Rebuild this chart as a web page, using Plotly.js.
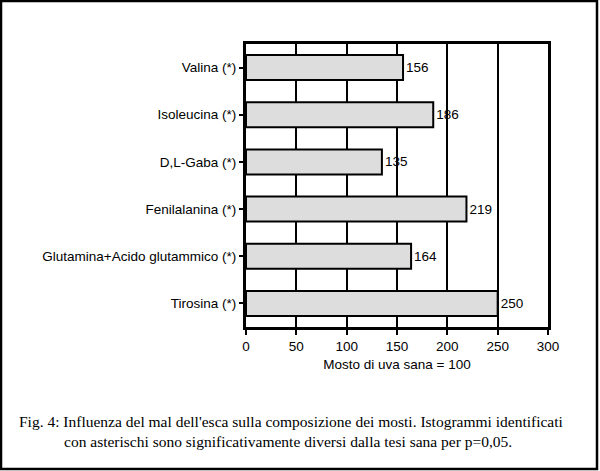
<!DOCTYPE html>
<html>
<head>
<meta charset="utf-8">
<script src="https://cdn.plot.ly/plotly-3.0.1.min.js"></script>
<style>
html,body{margin:0;padding:0;background:#fff;}
#chart{width:600px;height:471px;}
</style>
</head>
<body>
<div id="chart"></div>
<script>
const categories = ["Valina (*)", "Isoleucina (*)", "D,L-Gaba (*)", "Fenilalanina (*)", "Glutamina+Acido glutammico (*)", "Tirosina (*)"];
const values = [156, 186, 135, 219, 164, 250];
const xTicks = [0, 50, 100, 150, 200, 250, 300];
const xTitle = "Mosto di uva sana = 100";
const captionLine1 = "Fig. 4: Influenza del mal dell'esca sulla composizione dei mosti. Istogrammi identificati";
const captionLine2 = "con asterischi sono significativamente diversi dalla tesi sana per p=0,05.";

const W = 600, H = 471;
const m = {l: 246, r: 52, t: 44, b: 144};
const pw = W - m.l - m.r, ph = H - m.t - m.b;
const px = x => (x - m.l) / pw;
const py = y => (H - m.b - y) / ph;

const sans = "Arial, 'Liberation Sans', sans-serif";
const serif = "'Times New Roman', 'Liberation Serif', serif";
const fs = 13.5;

const trace = {
  type: "bar",
  orientation: "h",
  y: categories,
  x: values,
  text: values.map(String),
  textposition: "outside",
  textfont: {family: sans, size: fs, color: "#000"},
  cliponaxis: false,
  marker: {color: "#dddddd", line: {color: "#000", width: 2}},
  hoverinfo: "none"
};

const layout = {
  width: W, height: H,
  margin: m,
  paper_bgcolor: "#fff",
  plot_bgcolor: "#fff",
  showlegend: false,
  bargap: 0.47,
  font: {family: sans, size: fs, color: "#000"},
  xaxis: {
    range: [0, 300],
    tickvals: xTicks,
    ticktext: xTicks.map(String),
    showgrid: true, gridcolor: "#000", gridwidth: 2,
    zeroline: false,
    showline: true, linecolor: "#000", linewidth: 3, mirror: true,
    ticks: "outside", ticklen: 5, tickwidth: 2, tickcolor: "#000",
    tickfont: {family: sans, size: fs, color: "#000"},
    title: {text: xTitle, font: {family: sans, size: fs, color: "#000"}, standoff: 7}
  },
  yaxis: {
    autorange: "reversed",
    showgrid: false, zeroline: false,
    showline: true, linecolor: "#000", linewidth: 3, mirror: true,
    ticks: "outside", ticklen: 4, tickwidth: 2, tickcolor: "#000",
    tickfont: {family: sans, size: fs, color: "#000"}
  },
  shapes: [{
    type: "rect", xref: "paper", yref: "paper",
    x0: px(1), x1: px(597), y0: py(469), y1: py(1),
    line: {color: "#000", width: 2.5}, fillcolor: "rgba(0,0,0,0)"
  }],
  annotations: [
    {xref: "paper", yref: "paper", x: px(17), y: py(421), xanchor: "left", yanchor: "middle",
     text: captionLine1, showarrow: false, font: {family: serif, size: 15.5, color: "#000"}},
    {xref: "paper", yref: "paper", x: px(62), y: py(441), xanchor: "left", yanchor: "middle",
     text: captionLine2, showarrow: false, font: {family: serif, size: 15.5, color: "#000"}}
  ]
};

Plotly.newPlot("chart", [trace], layout, {staticPlot: true, displayModeBar: false});
</script>
</body>
</html>
